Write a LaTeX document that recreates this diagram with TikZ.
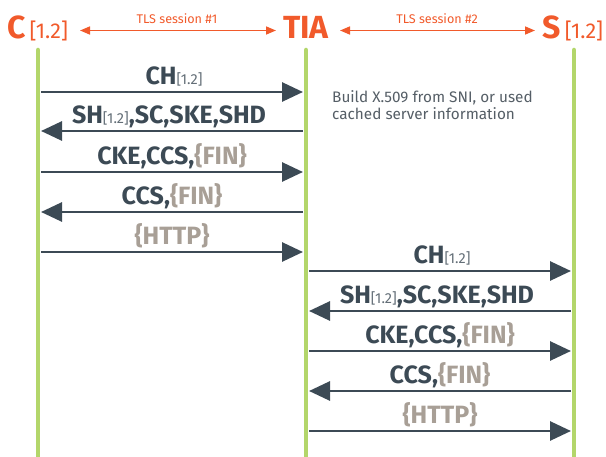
\documentclass[tikz,border=0pt]{standalone}
\usepackage{fontspec}
\setmainfont{Fira Sans}
\usetikzlibrary{arrows.meta}
\definecolor{tlsorange}{HTML}{F15A2B}
\definecolor{lifegreen}{HTML}{B3D66B}
\definecolor{msgslate}{HTML}{3C4A55}
\definecolor{enctan}{HTML}{A89F96}
\definecolor{notegray}{HTML}{555E66}
\newcommand{\ver}{{\fontsize{14.5}{14.5}\selectfont\mdseries\color{msgslate!80}[1.2]}}
\newcommand{\enc}[1]{\textcolor{enctan}{\{#1\}}}
\tikzset{
  lifeline/.style={draw=lifegreen, line width=4.5pt, line cap=round},
  msg/.style={draw=msgslate, line width=2.8pt, -{Triangle[length=21pt,width=19pt]}},
  lbl/.style={anchor=base, inner sep=0pt, text=msgslate, font=\fontsize{25}{25}\selectfont\bfseries},
  actor/.style={inner sep=0pt, text=tlsorange, font=\fontsize{32}{32}\selectfont\bfseries},
  actorver/.style={inner sep=0pt, text=tlsorange, font=\fontsize{21.5}{21.5}\selectfont},
  session/.style={draw=tlsorange, line width=1.6pt, {Triangle[length=10pt,width=8pt]}-{Triangle[length=10pt,width=8pt]}},
  sessionlbl/.style={inner sep=0pt, text=tlsorange, font=\fontsize{12.6}{12.6}\selectfont},
  note/.style={inner sep=0pt, anchor=west, text=notegray, font=\fontsize{15.3}{17}\selectfont, align=left},
}
\begin{document}
\begin{tikzpicture}[x=1pt, y=-1pt]
\useasboundingbox (0,0) rectangle (606,457);
% lifelines
\coordinate (Ctop) at (38,50);  \coordinate (Cbot) at (38,462);
\coordinate (Ttop) at (306,50); \coordinate (Tbot) at (306,462);
\coordinate (Stop) at (574,50); \coordinate (Sbot) at (574,462);
\draw[lifeline] (Ctop) -- (Cbot);
\draw[lifeline] (Ttop) -- (Tbot);
\draw[lifeline] (Stop) -- (Sbot);
% participants
\node[actor, anchor=base west] (C) at (7,39) {C};
\node[actorver, anchor=base west] (Cv) at (C.base east) {\,[1.2]};
\node[actor, anchor=base] (T) at (306,39) {TIA};
\node[actor, anchor=base east] (S) at (561,39) {S};
\node[actorver, anchor=base west] (Sv) at (S.base east) {\,[1.2]};
% session arrows
\coordinate (s1a) at (80,30.5);  \coordinate (s1b) at (276,30.5);
\coordinate (s2a) at (340,30.5); \coordinate (s2b) at (535,30.5);
\draw[session] (s1a) -- (s1b);
\draw[session] (s2a) -- (s2b);
\node[sessionlbl] (s1l) at (177,19) {TLS session \#1};
\node[sessionlbl] (s2l) at (437,19) {TLS session \#2};
% note
\node[note] (nt) at (332,105) {Build X.509 from SNI, or used\\cached server information};
% client <-> TIA handshake
\foreach \y/\name in {92/1,131/2,172/3,212/4,252/5}{
  \coordinate (cl\name) at (41,\y);
  \coordinate (tl\name) at (303,\y);
}
\draw[msg] (cl1) -- (tl1);
\draw[msg] (tl2) -- (cl2);
\draw[msg] (cl3) -- (tl3);
\draw[msg] (tl4) -- (cl4);
\draw[msg] (cl5) -- (tl5);
\node[lbl] (m1) at (174,85) {CH\ver};
\node[lbl] (m2) at (169,124) {SH\ver,SC,SKE,SHD};
\node[lbl] (m3) at (172,165) {CKE,CCS,\enc{FIN}};
\node[lbl] (m4) at (172,205) {CCS,\enc{FIN}};
\node[lbl] (m5) at (172,245) {\enc{HTTP}};
% TIA <-> server handshake
\foreach \y/\name in {271/6,311/7,351/8,391/9,431/10}{
  \coordinate (tr\name) at (309,\y);
  \coordinate (sr\name) at (571,\y);
}
\draw[msg] (tr6) -- (sr6);
\draw[msg] (sr7) -- (tr7);
\draw[msg] (tr8) -- (sr8);
\draw[msg] (sr9) -- (tr9);
\draw[msg] (tr10) -- (sr10);
\node[lbl] (m6) at (442,264) {CH\ver};
\node[lbl] (m7) at (437,304) {SH\ver,SC,SKE,SHD};
\node[lbl] (m8) at (440,344) {CKE,CCS,\enc{FIN}};
\node[lbl] (m9) at (440,384) {CCS,\enc{FIN}};
\node[lbl] (m10) at (440,424) {\enc{HTTP}};
\end{tikzpicture}
\end{document}
